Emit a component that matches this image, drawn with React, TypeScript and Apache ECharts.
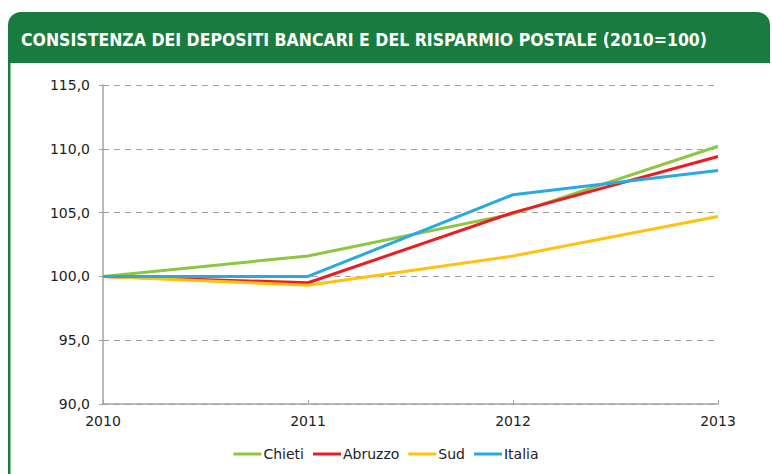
import React, { useEffect, useRef } from "react";
import * as echarts from "echarts";

const years = ["2010", "2011", "2012", "2013"];
const chieti = [100.0, 101.6, 104.9, 110.2];
const abruzzo = [100.0, 99.5, 105.0, 109.4];
const sud = [100.0, 99.3, 101.6, 104.7];
const italia = [100.0, 100.0, 106.4, 108.3];

const seriesNames = ["Chieti", "Abruzzo", "Sud", "Italia"];
const seriesColors = ["#8dc63f", "#ed1c24", "#ffc20e", "#27aae1"];
const titleText = "CONSISTENZA DEI DEPOSITI BANCARI E DEL RISPARMIO POSTALE (2010=100)";

export default function App() {
  const ref = useRef<HTMLDivElement>(null);
  useEffect(() => {
    if (!ref.current) return;
    const chart = echarts.init(ref.current, null, { renderer: "svg" });
    const data = [chieti, abruzzo, sud, italia];
    const font = "'DejaVu Sans', sans-serif";
    chart.setOption({
      animation: false,
      backgroundColor: "#ffffff",
      graphic: [
        {
          type: "rect",
          shape: { x: 8, y: 12, width: 762, height: 51, r: [13, 13, 0, 0] },
          style: { fill: "#1a7b3e" },
          z: 0,
        },
        {
          type: "rect",
          shape: { x: 8, y: 60, width: 2.5, height: 420 },
          style: { fill: "#1a7b3e" },
          z: 0,
        },
        {
          type: "text",
          x: 21,
          y: 40,
          style: {
            text: titleText,
            fill: "#ffffff",
            font: "bold 17.5px 'DejaVu Sans Condensed', sans-serif",
            verticalAlign: "middle",
            align: "left",
          },
          z: 1,
        },
      ],
      grid: { left: 103, right: 54, top: 85, bottom: 70, containLabel: false },
      legend: {
        bottom: 8,
        left: "center",
        icon: "rect",
        itemWidth: 28,
        itemHeight: 3,
        itemGap: 9,
        textStyle: { fontFamily: font, fontSize: 14, color: "#222", padding: [0, 0, 0, -3] },
        data: seriesNames,
      },
      xAxis: {
        type: "category",
        data: years,
        boundaryGap: false,
        axisLine: { lineStyle: { color: "#a8a29c", width: 1.5 } },
        axisTick: { show: true, inside: true, length: 4, lineStyle: { color: "#a8a29c" } },
        axisLabel: { fontFamily: font, fontSize: 14, color: "#222", margin: 10 },
        splitLine: { show: false },
      },
      yAxis: {
        type: "value",
        min: 90,
        max: 115,
        interval: 5,
        axisLine: { show: true, lineStyle: { color: "#a8a29c", width: 1.5 } },
        axisTick: { show: true, length: 4, lineStyle: { color: "#a8a29c" } },
        axisLabel: {
          fontFamily: font,
          fontSize: 14,
          color: "#222",
          margin: 13,
          formatter: (v: number) => v.toFixed(1).replace(".", ","),
        },
        splitLine: { show: true, lineStyle: { color: "#a39d98", type: [6, 5], width: 1 } },
      },
      series: seriesNames.map((name, i) => ({
        name,
        type: "line",
        data: data[i],
        symbol: "none",
        lineStyle: { color: seriesColors[i], width: 3 },
        itemStyle: { color: seriesColors[i] },
      })),
    });
    return () => chart.dispose();
  }, []);
  return (
    <div
      ref={ref}
      style={{ position: "fixed", left: 0, top: 0, width: 772, height: 474, background: "#fff" }}
    />
  );
}
